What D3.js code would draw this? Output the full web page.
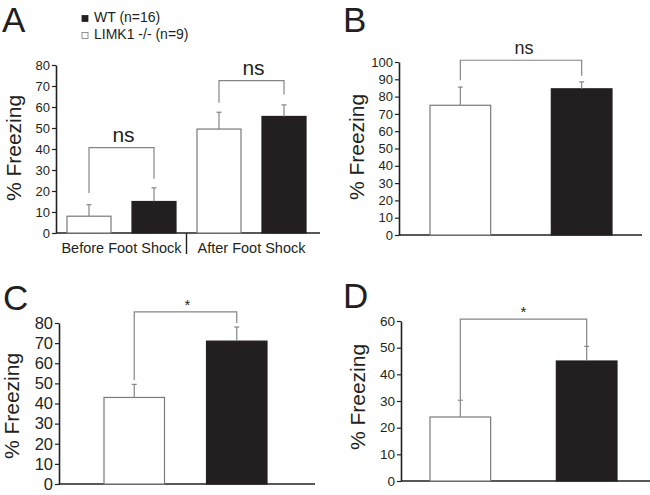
<!DOCTYPE html>
<html><head><meta charset="utf-8">
<script src="https://cdn.jsdelivr.net/npm/d3@7"></script>
<style>
body{margin:0;background:#fff;}
svg text{font-family:"Liberation Sans",Arial,Helvetica,sans-serif;fill:#231f20;}
</style></head>
<body><svg id="c" width="650" height="495"></svg>
<script>
// ---------- data ----------
const seriesNames = ["WT (n=16)", "LIMK1 -/- (n=9)"];
const groupsA = ["Before Foot Shock", "After Foot Shock"];
const koA = [8, 49.5],  koSemA = [5.5, 8];
const wtA = [15, 55.5], wtSemA = [6.5, 5.5];
const koB = 75,  koSemB = 10.5, wtB = 84.5, wtSemB = 4;
const koC = 43,  koSemC = 6.5,  wtC = 71,   wtSemC = 7;
const koD = 24,  koSemD = 6.3,  wtD = 45,   wtSemD = 5.5;
const ticksA = [0,10,20,30,40,50,60,70,80];
const ticksB = [0,10,20,30,40,50,60,70,80,90,100];
const ticksC = [0,10,20,30,40,50,60,70,80];
const ticksD = [0,10,20,30,40,50,60];
// significance brackets: [level, left leg end, right leg end, label]
const sigA = [[40.7, 19, 26, "ns"], [72.6, 62, 66, "ns"]];
const sigB = [101, 89.5, 92, "ns"];
const sigC = [85.5, 51.7, 80, "*"];
const sigD = [60.7, 30.6, 50.6, "*"];

const svg = d3.select("#c");
const DARK = "#231f20", GRAY = "#858585";

function panel(o){
  const g = svg.append("g");
  const y = d3.scaleLinear().domain([0, o.max]).range([o.y0, o.yTop]);
  // letter
  g.append("text").attr("x", o.lx).attr("y", o.ly).attr("font-size", 35).text(o.letter);
  // y label
  g.append("text").attr("transform", `translate(${o.ylx},${o.yly}) rotate(-90)`)
    .attr("text-anchor","middle").attr("font-size", 21).text("% Freezing");
  // axis
  const ax = d3.axisLeft(y).tickValues(o.ticks).tickSize(4).tickSizeOuter(0).tickPadding(2);
  const ga = g.append("g").attr("transform", `translate(${o.x0},0)`).call(ax);
  ga.select(".domain").attr("stroke", DARK).attr("stroke-width", 1.6);
  ga.selectAll(".tick line").attr("stroke", DARK).attr("stroke-width", 1.2);
  ga.selectAll(".tick text").attr("font-size", o.tickFs).attr("fill", DARK)
    .attr("font-family","Liberation Sans, Arial, sans-serif");
  g.append("line").attr("x1", o.x0).attr("x2", o.x1).attr("y1", o.y0).attr("y2", o.y0)
    .attr("stroke", DARK).attr("stroke-width", 1.6);
  // bars
  o.bars.forEach(b => {
    const top = y(b.v);
    g.append("rect").attr("x", b.x).attr("width", b.w).attr("y", top).attr("height", o.y0 - top)
      .attr("fill", b.ko ? "#fff" : DARK).attr("stroke", b.ko ? "#7a7a7a" : DARK).attr("stroke-width", 1.2);
    const cx = b.x + b.w/2, et = y(b.v + b.e);
    g.append("line").attr("x1", cx).attr("x2", cx).attr("y1", top).attr("y2", et)
      .attr("stroke", GRAY).attr("stroke-width", 1.2);
    g.append("line").attr("x1", cx-2.5).attr("x2", cx+2.5).attr("y1", et).attr("y2", et)
      .attr("stroke", GRAY).attr("stroke-width", 1.2);
  });
  // brackets
  o.sigs.forEach(s => {
    const [lev, l, r, lab] = s.d;
    const xl = s.xl, xr = s.xr;
    g.append("path").attr("d", `M${xl},${y(l)}V${y(lev)}H${xr}V${y(r)}`)
      .attr("fill","none").attr("stroke", GRAY).attr("stroke-width", 1.2);
    g.append("text").attr("x", (xl+xr)/2 + (s.dx||0)).attr("y", y(lev) + s.dy)
      .attr("text-anchor","middle").attr("font-size", s.fs).text(lab);
  });
  return {g, y};
}

// ---------- Panel A ----------
const xA = d3.scaleBand().domain(groupsA).range([56.5, 316.5]);
const xAin = d3.scaleBand().domain(["ko","wt"]).range([0, xA.bandwidth()]).paddingInner(21/65).paddingOuter(0.1615);
const barsA = [];
groupsA.forEach((gname, i) => {
  barsA.push({x: xA(gname) + xAin("ko"), w: xAin.bandwidth(), v: koA[i], e: koSemA[i], ko: true});
  barsA.push({x: xA(gname) + xAin("wt"), w: xAin.bandwidth(), v: wtA[i], e: wtSemA[i], ko: false});
});
const pA = panel({letter:"A", lx:2, ly:32, ylx:21, yly:148, max:80, ticks:ticksA, tickFs:13,
  x0:56, x1:320, y0:233, yTop:65, bars:barsA,
  sigs: groupsA.map((gname, i) => ({d: sigA[i],
    xl: xA(gname)+xAin("ko")+xAin.bandwidth()/2, xr: xA(gname)+xAin("wt")+xAin.bandwidth()/2,
    dy: -6, fs: 21, dx: 2}))});
// group labels + divider
groupsA.forEach(gname => {
  pA.g.append("text").attr("x", xA(gname) + xA.bandwidth()/2).attr("y", 253)
    .attr("text-anchor","middle").attr("font-size", 14.5).text(gname);
});
pA.g.append("line").attr("x1", xA(groupsA[1])).attr("x2", xA(groupsA[1])).attr("y1", 233).attr("y2", 254)
  .attr("stroke", DARK).attr("stroke-width", 1.4);
// legend
const leg = svg.append("g");
seriesNames.forEach((nm, i) => {
  const yy = 22 + i*17;
  leg.append("rect").attr("x", 82).attr("y", yy-6.5).attr("width", 6).attr("height", 6)
    .attr("fill", i===0 ? DARK : "#fff").attr("stroke", i===0 ? DARK : "#7a7a7a").attr("stroke-width", 0.8);
  leg.append("text").attr("x", 94).attr("y", yy).attr("font-size", 14).text(nm);
});

// ---------- Panels B, C, D ----------
function twoBar(o, ko, koS, wt, wtS, sig, sigOpt){
  const xb = d3.scaleBand().domain(["ko","wt"]).range([o.b0, o.b1]).paddingInner(o.pi);
  const bars = [
    {x: xb("ko"), w: xb.bandwidth(), v: ko, e: koS, ko: true},
    {x: xb("wt"), w: xb.bandwidth(), v: wt, e: wtS, ko: false}];
  o.bars = bars;
  o.sigs = [Object.assign({d: sig, xl: xb("ko")+xb.bandwidth()/2, xr: xb("wt")+xb.bandwidth()/2}, sigOpt)];
  return panel(o);
}
twoBar({letter:"B", lx:343, ly:32, ylx:364, yly:147, max:100, ticks:ticksB, tickFs:13,
  x0:399, x1:642, y0:235, yTop:62, b0:430, b1:612, pi:0.5}, koB, koSemB, wtB, wtSemB, sigB, {dy:-6, fs:18, dx:3});
twoBar({letter:"C", lx:3, ly:310, ylx:19, yly:406, max:80, ticks:ticksC, tickFs:16.5,
  x0:59, x1:315, y0:484, yTop:323, b0:104, b1:267, pi:0.41}, koC, koSemC, wtC, wtSemC, sigC, {dy:-2, fs:15, dx:2});
twoBar({letter:"D", lx:343, ly:308, ylx:365, yly:397, max:60, ticks:ticksD, tickFs:13.5,
  x0:401, x1:650, y0:481, yTop:321, b0:430, b1:617, pi:0.52}, koD, koSemD, wtD, wtSemD, sigD, {dy:-2, fs:15, dx:0});
</script></body></html>
